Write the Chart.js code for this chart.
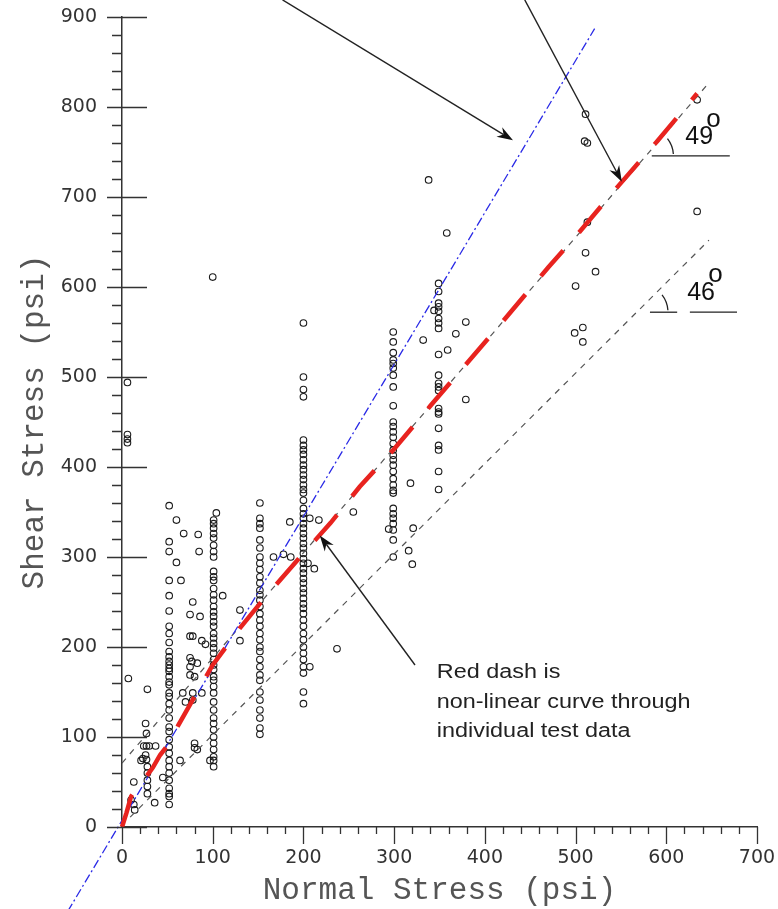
<!DOCTYPE html>
<html>
<head>
<meta charset="utf-8">
<title>Shear Stress vs Normal Stress</title>
<script src="https://cdn.jsdelivr.net/npm/chart.js@4.4.1/dist/chart.umd.min.js"></script>
<style>
  body { margin: 0; background: #fff; }
  #chart { display: block; }
</style>
</head>
<body>
<canvas id="chart" width="778" height="909"></canvas>
<script>
// Test data (psi)
// vertical stacks of tests run at one normal stress
const stackNormal = [52, 101, 152, 200, 299, 349];
const stackShear = [
  [357, 317, 306, 274, 257, 240, 223, 215, 205, 195, 189, 184, 180, 176, 173, 167, 161, 158, 149, 145,
   137, 130, 121, 111, 106, 97, 89, 82, 74, 67, 60, 52, 43, 37, 34, 25],
  [341, 337, 332, 326, 321, 313, 306, 300, 284, 278, 274, 265, 258, 252, 245, 239, 234, 228, 223, 215,
   210, 204, 199, 193, 186, 180, 175, 167, 163, 156, 149, 139, 130, 121, 115, 108, 100, 93, 86, 78, 74, 67],
  [360, 343, 337, 332, 319, 310, 300, 293, 286, 278, 271, 263, 258, 252, 245, 237, 230, 223, 215, 208,
   200, 195, 186, 178, 169, 163, 150, 141, 130, 121, 110, 103],
  [560, 500, 486, 478, 430, 424, 419, 414, 408, 402, 397, 391, 386, 380, 375, 371, 363, 354, 348, 343,
   337, 332, 326, 321, 315, 310, 304, 298, 293, 287, 282, 276, 271, 265, 260, 254, 248, 243, 237, 230,
   223, 215, 208, 200, 193, 186, 178, 171, 150, 137],
  [550, 539, 527, 519, 515, 510, 502, 489, 468, 450, 445, 439, 433, 426, 419, 413, 408, 402, 395, 387,
   380, 374, 371, 354, 348, 343, 337, 330, 319, 300],
  [604, 595, 582, 578, 573, 565, 560, 554, 525, 502, 493, 489, 485, 465, 461, 459, 443, 424, 419, 395, 375]
];

// loose tests between the stacks
const looseNormal = [
  6, 6, 6, 6, 7, 13, 13, 14, 10,
  28, 26, 27, 24, 27, 30, 26, 27, 28, 28, 28, 28, 28, 23, 21, 36, 37, 45,
  60, 68, 60, 65, 64, 67, 70,
  84, 85, 78, 75, 86, 75, 78, 88, 92, 75, 77, 83, 75, 75, 80, 78, 78, 80, 80, 83, 97, 88,
  104, 100, 111, 130, 130,
  185, 217, 207, 167, 178, 186, 212, 205, 237, 255, 207,
  294, 318, 321, 316, 320,
  338, 358, 344, 332, 368, 379, 359, 379,
  511, 510, 513, 513, 511, 522, 500, 499, 508, 508,
  634, 634
];
const looseShear = [
  494, 436, 431, 427, 165, 50, 25, 19, 30,
  153, 115, 104, 90, 90, 90, 80, 75, 67, 60, 52, 45, 37, 76, 74, 27, 90, 55,
  341, 326, 294, 274, 74, 149, 139,
  325, 306, 250, 236, 234, 212, 212, 207, 203, 188, 184, 182, 178, 169, 167, 149, 141, 93, 88, 86, 74, 149,
  349, 611, 257, 241, 207,
  339, 341, 343, 300, 303, 300, 287, 293, 198, 350, 178,
  331, 382, 332, 307, 292,
  719, 660, 574, 541, 548, 561, 530, 475,
  792, 762, 672, 760, 638, 617, 601, 549, 555, 539,
  808, 684
];

// red non-linear fit
const redNormal = [0, 5, 10, 18, 26, 34, 42, 52, 62, 80, 100, 130, 160, 200, 230, 262, 300, 340, 380, 420, 470, 500, 540, 590, 634];
const redShear = [0, 16, 34, 45, 55, 66, 80, 93, 113, 145, 180, 221, 258, 304, 338, 378, 420, 468, 515, 562, 622, 656, 704, 762, 815];

// straight envelopes
const blueNormal = [-60, 521];
const blueShear = [-94, 887];
const line49Normal = [0, 648];
const line49Shear = [71, 828];
const line46Normal = [9, 647];
const line46Shear = [11, 652];

// Annotations (data units)
const arrowTails = [[177, 919], [444, 919], [323, 180]];
const arrowTips = [[431, 763], [551, 717], [218, 324]];
const noteText = ["Red dash is", "non-linear curve through", "individual test data"];
const noteX = 347;
const noteY = [172, 138, 106];
const angleText = ["49", "46"];
const angleLabelAt = [[621, 766], [623, 593]];
const angleCenter = [[577, 745.6], [571, 572]];
const angleRules = [[[584, 670]], [[582, 612], [626, 678]]];

function toPoints(xs, ys) {
  return xs.map((x, i) => ({ x: x, y: ys[i] }));
}

const testPoints = [];
stackNormal.forEach((x, i) => {
  stackShear[i].forEach(y => testPoints.push({ x: x, y: y }));
});
toPoints(looseNormal, looseShear).forEach(p => testPoints.push(p));

// tick marks: minor every 20, major every 100
const axisTicks = {
  id: "axisTicks",
  afterDraw(chart) {
    const ctx = chart.ctx;
    const xs = chart.scales.x;
    const ys = chart.scales.y;
    const left = xs.left;
    const bottom = ys.bottom;
    ctx.save();
    ctx.strokeStyle = "#333";
    ctx.lineWidth = 1.3;
    ctx.beginPath();
    for (let v = 0; v <= 900; v += 20) {
      const py = Math.round(ys.getPixelForValue(v)) + 0.5;
      const major = v % 100 === 0;
      ctx.moveTo(left - (major ? 15 : 10), py);
      ctx.lineTo(left + (major ? 25 : 0), py);
    }
    for (let v = 0; v <= 700; v += 20) {
      const px = Math.round(xs.getPixelForValue(v)) + 0.5;
      const major = v % 100 === 0;
      ctx.moveTo(px, bottom);
      ctx.lineTo(px, bottom + (major ? 17 : 7));
    }
    ctx.stroke();
    ctx.restore();
  }
};

function drawArrow(ctx, x1, y1, x2, y2) {
  const ang = Math.atan2(y2 - y1, x2 - x1);
  const len = 16, half = 5.5, notch = 11;
  ctx.beginPath();
  ctx.moveTo(x1, y1);
  ctx.lineTo(x2 - Math.cos(ang) * notch, y2 - Math.sin(ang) * notch);
  ctx.stroke();
  ctx.beginPath();
  ctx.moveTo(x2, y2);
  ctx.lineTo(x2 - Math.cos(ang) * len - Math.sin(ang) * half, y2 - Math.sin(ang) * len + Math.cos(ang) * half);
  ctx.lineTo(x2 - Math.cos(ang) * notch, y2 - Math.sin(ang) * notch);
  ctx.lineTo(x2 - Math.cos(ang) * len + Math.sin(ang) * half, y2 - Math.sin(ang) * len - Math.cos(ang) * half);
  ctx.closePath();
  ctx.fill();
}

// arrows, note text and angle marks
const notes = {
  id: "notes",
  afterDraw(chart) {
    const ctx = chart.ctx;
    const xs = chart.scales.x;
    const ys = chart.scales.y;
    const px = v => xs.getPixelForValue(v);
    const py = v => ys.getPixelForValue(v);
    ctx.save();
    ctx.strokeStyle = "#222";
    ctx.fillStyle = "#111";
    ctx.lineWidth = 1.4;
    arrowTails.forEach((t, i) => {
      drawArrow(ctx, px(t[0]), py(t[1]), px(arrowTips[i][0]), py(arrowTips[i][1]));
    });

    // note, the scan is a bit wide so stretch the text
    ctx.font = "20px 'Liberation Sans', Arial, sans-serif";
    ctx.fillStyle = "#222";
    ctx.textBaseline = "middle";
    noteText.forEach((line, i) => {
      ctx.save();
      ctx.translate(px(noteX), py(noteY[i]));
      ctx.scale(1.17, 1);
      ctx.fillText(line, 0, 0);
      ctx.restore();
    });

    // angle labels
    ctx.fillStyle = "#111";
    ctx.lineWidth = 1.3;
    angleText.forEach((txt, i) => {
      const lx = px(angleLabelAt[i][0]);
      const ly = py(angleLabelAt[i][1]);
      ctx.font = "25px 'Liberation Sans', Arial, sans-serif";
      ctx.fillText(txt, lx, ly);
      ctx.font = "26px 'Liberation Sans', Arial, sans-serif";
      ctx.fillText("o", lx + 21, ly - 18);

      const cy = py(angleCenter[i][1]);
      angleRules[i].forEach(r => {
        ctx.beginPath();
        ctx.moveTo(px(r[0]), cy);
        ctx.lineTo(px(r[1]), cy);
        ctx.stroke();
      });
      ctx.beginPath();
      ctx.arc(px(angleCenter[i][0]), cy, 28, -38 * Math.PI / 180, -4 * Math.PI / 180);
      ctx.stroke();
    });
    ctx.restore();
  }
};

const tickFont = { family: "'DejaVu Sans', sans-serif", size: 19 };
const titleFont = { family: "'Liberation Mono', 'Courier New', monospace", size: 31 };

new Chart(document.getElementById("chart"), {
  type: "scatter",
  data: {
    datasets: [
      {
        label: "non-linear fit",
        data: toPoints(redNormal, redShear),
        showLine: true,
        borderColor: "#e8231f",
        borderWidth: 4.5,
        borderDash: [34, 24],
        pointRadius: 0,
        tension: 0,
        clip: false
      },
      {
        label: "blue envelope",
        data: toPoints(blueNormal, blueShear),
        showLine: true,
        borderColor: "#2a2ae6",
        borderWidth: 1.3,
        borderDash: [9, 3, 2, 3],
        pointRadius: 0,
        clip: false
      },
      {
        label: "49 deg",
        data: toPoints(line49Normal, line49Shear),
        showLine: true,
        borderColor: "#555",
        borderWidth: 1.2,
        borderDash: [6, 6],
        pointRadius: 0,
        clip: false
      },
      {
        label: "46 deg",
        data: toPoints(line46Normal, line46Shear),
        showLine: true,
        borderColor: "#555",
        borderWidth: 1.2,
        borderDash: [6, 6],
        pointRadius: 0,
        clip: false
      },
      {
        label: "tests",
        data: testPoints,
        pointStyle: "circle",
        pointRadius: 3.3,
        borderWidth: 1.1,
        borderColor: "#1a1a1a",
        backgroundColor: "rgba(0,0,0,0)"
      }
    ]
  },
  options: {
    responsive: false,
    animation: false,
    layout: { padding: { top: 17, right: 21, left: 0, bottom: 0 } },
    plugins: {
      legend: { display: false },
      tooltip: { enabled: false }
    },
    scales: {
      x: {
        type: "linear",
        min: 0,
        max: 700,
        // grid hidden, tick marks come from the plugin; tickLength only spaces the labels
        grid: { display: false, drawTicks: true, tickLength: 20 },
        border: { display: true, color: "#333", width: 1.5 },
        ticks: { stepSize: 100, padding: 0, color: "#333", font: tickFont },
        title: { display: true, text: "Normal Stress (psi)", color: "#555", font: titleFont, padding: { top: 2, bottom: 0 } },
        afterFit: scale => { scale.height = 82; }
      },
      y: {
        type: "linear",
        min: 0,
        max: 900,
        grid: { display: false, drawTicks: true, tickLength: 25 },
        border: { display: true, color: "#333", width: 1.5 },
        ticks: { stepSize: 100, padding: 0, color: "#333", font: tickFont },
        title: { display: true, text: "Shear Stress (psi)", color: "#555", font: titleFont, padding: { top: 16, bottom: 0 } },
        afterFit: scale => { scale.width = 122; }
      }
    }
  },
  plugins: [axisTicks, notes]
});
</script>
</body>
</html>
